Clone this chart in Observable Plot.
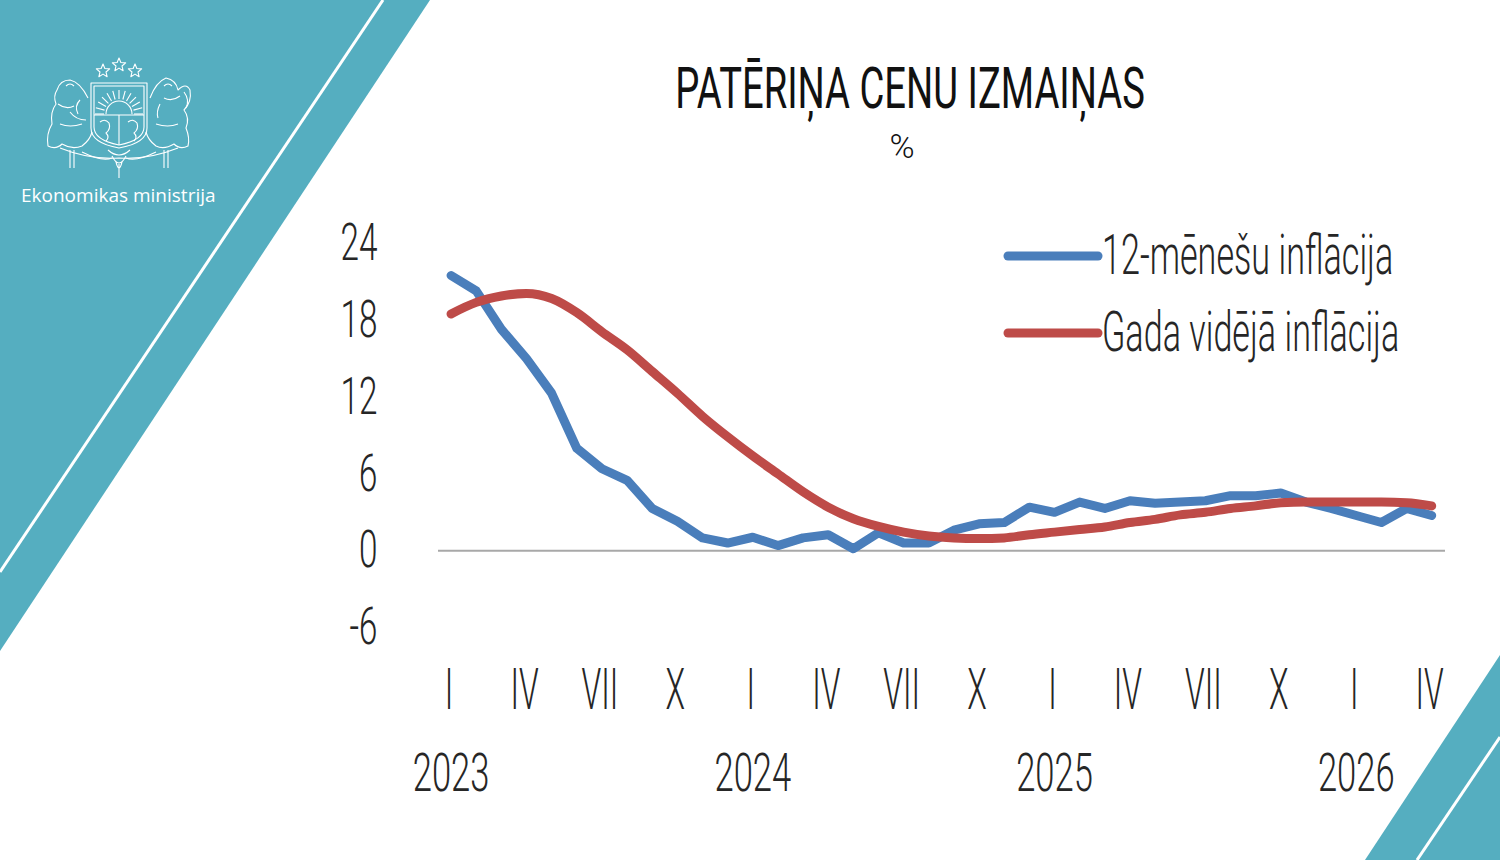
<!DOCTYPE html>
<html>
<head>
<meta charset="utf-8">
<script src="https://cdn.jsdelivr.net/npm/d3@7"></script>
<script src="https://cdn.jsdelivr.net/npm/@observablehq/plot@0.6"></script>
<style>
  html, body { margin: 0; padding: 0; background: #fff; }
  #page { position: relative; width: 1500px; height: 860px; overflow: hidden; background: #fff; }
  #deco, #overlay, #chart { position: absolute; left: 0; top: 0; }
</style>
</head>
<body>
<div id="page">
  <svg id="deco" width="1500" height="860"></svg>
  <div id="chart"></div>
  <svg id="overlay" width="1500" height="860"></svg>
</div>
<script>
// ---------------- DATA ----------------
const titleText = "PATĒRIŅA CENU IZMAIŅAS";
const unitText = "%";
const ministryText = "Ekonomikas ministrija";

// month index 0 = January 2023 ... 39 = April 2026
const monthIndex = d3.range(40);

const seriesNames = ["12-mēnešu inflācija", "Gada vidējā inflācija"];
const seriesColors = ["#4a7ebb", "#be4b48"];

const inflation12 = [
  21.5, 20.3, 17.3, 15.0, 12.3, 8.0, 6.4, 5.5, 3.3, 2.3, 1.0, 0.6,
  1.05, 0.4, 1.0, 1.25, 0.15, 1.4, 0.6, 0.6, 1.6, 2.1, 2.2, 3.4,
  3.0, 3.8, 3.3, 3.9, 3.7, 3.8, 3.9, 4.3, 4.3, 4.5, 3.8, 3.3,
  2.75, 2.2, 3.3, 2.75
];
const annualAverage = [
  18.5, 19.4, 19.9, 20.1, 19.7, 18.6, 17.1, 15.7, 14.0, 12.3, 10.5, 8.9,
  7.4, 6.0, 4.6, 3.4, 2.5, 1.9, 1.45, 1.15, 1.0, 0.95, 1.0, 1.25,
  1.45, 1.65, 1.85, 2.2, 2.45, 2.8, 3.0, 3.3, 3.5, 3.75, 3.8, 3.8,
  3.8, 3.8, 3.75, 3.5
];

const yTicks = [-6, 0, 6, 12, 18, 24];
const quarterTicks = [0, 3, 6, 9, 12, 15, 18, 21, 24, 27, 30, 33, 36, 39];
const quarterLabels = ["I", "IV", "VII", "X", "I", "IV", "VII", "X", "I", "IV", "VII", "X", "I", "IV"];
const yearTicks = [0, 12, 24, 36];
const yearLabels = ["2023", "2024", "2025", "2026"];

// ---------------- TABLES ----------------
const rows12 = monthIndex.map((m, i) => ({ m, v: inflation12[i] }));
const rowsAvg = monthIndex.map((m, i) => ({ m, v: annualAverage[i] }));
const quarterData = quarterTicks.map((m, i) => ({ m, label: quarterLabels[i] }));
const yearData = yearTicks.map((m, i) => ({ m, label: yearLabels[i] }));

const FONT = "Roboto, 'Open Sans', sans-serif";
const TXT = "#262626";

// ---------------- CHART ----------------
const chart = Plot.plot({
  width: 1500,
  height: 860,
  marginLeft: 438,
  marginRight: 55,
  marginTop: 243,
  marginBottom: 233,
  x: { domain: [-0.5, 39.55], axis: null },
  y: { domain: [-6, 24], axis: null },
  style: { background: "transparent", fontFamily: FONT, overflow: "visible" },
  marks: [
    Plot.ruleY([0], { stroke: "#a8a8a8", strokeWidth: 2 }),
    Plot.axisY({
      ticks: yTicks, tickSize: 0, tickPadding: 61, fontSize: 52, fontWeight: 300,
      fill: TXT, tickFormat: d => String(d), label: null
    }),
    Plot.text(quarterData, {
      x: "m", text: "label", frameAnchor: "bottom", dy: 63, dx: -2,
      fontSize: 58, fontWeight: 300, fill: TXT, lineAnchor: "middle"
    }),
    Plot.text(yearData, {
      x: "m", text: "label", frameAnchor: "bottom", dy: 146,
      fontSize: 54, fontWeight: 300, fill: TXT, lineAnchor: "middle"
    }),
    Plot.line(rows12, {
      x: "m", y: "v", stroke: seriesColors[0], strokeWidth: 9,
      strokeLinejoin: "round", strokeLinecap: "round"
    }),
    Plot.line(rowsAvg, {
      x: "m", y: "v", stroke: seriesColors[1], strokeWidth: 9,
      strokeLinejoin: "round", strokeLinecap: "round", curve: "monotone-x"
    })
  ]
});
document.getElementById("chart").appendChild(chart);

// condense the tick label font horizontally (narrow typeface look)
chart.querySelectorAll("text").forEach(t => {
  const tr = t.getAttribute("transform");
  const roman = /^[IVX]+$/.test(t.textContent.trim());
  if (tr) t.setAttribute("transform", tr + (roman ? " scale(0.55,1)" : " scale(0.64,1)"));
});

// ---------------- DECORATION ----------------
const deco = d3.select("#deco");
const teal = "#55aec0";
deco.append("polygon").attr("points", "0,0 430,0 0,651").attr("fill", teal);
deco.append("line").attr("x1", 383).attr("y1", 0).attr("x2", 0).attr("y2", 572)
  .attr("stroke", "#fff").attr("stroke-width", 3);
deco.append("polygon").attr("points", "1500,655 1500,860 1365,860").attr("fill", teal);
deco.append("line").attr("x1", 1500).attr("y1", 737).attr("x2", 1417).attr("y2", 860)
  .attr("stroke", "#fff").attr("stroke-width", 3);

// simplified coat of arms (white outline)
const logo = deco.append("g").attr("fill", "none").attr("stroke", "#fff")
  .attr("stroke-width", 1.1).attr("stroke-linejoin", "round");
function star(cx, cy, r) {
  const pts = d3.range(10).map(i => {
    const a = -Math.PI / 2 + i * Math.PI / 5;
    const rr = i % 2 ? r * 0.45 : r;
    return [cx + rr * Math.cos(a), cy + rr * Math.sin(a)];
  });
  logo.append("polygon").attr("points", pts.map(p => p.join(",")).join(" "));
}
star(103, 71, 7); star(119, 65, 7); star(135, 71, 7);
// shield
logo.append("path").attr("d", "M91,83 L147,83 L147,128 Q147,143 119,148 Q91,143 91,128 Z");
logo.append("path").attr("d", "M94,86 L144,86 L144,127 Q144,140 119,145 Q94,140 94,127 Z");
// sun
logo.append("path").attr("d", "M106,114 A13,13 0 0 1 132,114");
d3.range(13).forEach(i => {
  const a = Math.PI + i * Math.PI / 12;
  logo.append("line")
    .attr("x1", 119 + 15 * Math.cos(a)).attr("y1", 114 + 15 * Math.sin(a))
    .attr("x2", 119 + 24 * Math.cos(a)).attr("y2", 114 + 24 * Math.sin(a));
});
logo.append("line").attr("x1", 94).attr("y1", 115).attr("x2", 144).attr("y2", 115);
logo.append("line").attr("x1", 119).attr("y1", 115).attr("x2", 119).attr("y2", 145);
logo.append("path").attr("d", "M100,122 q5,-4 9,1 q2,6 -3,10 q4,4 0,8 M128,122 q5,-4 9,1 q2,6 -3,10 q4,4 0,8");
// lion (left)
logo.append("path").attr("d", "M88,98 Q80,82 70,80 Q60,80 57,90 Q53,96 56,104 Q50,112 52,124 Q46,134 48,146 Q56,150 62,144 Q72,150 82,146 Q90,140 92,132 M66,86 q4,-4 8,0 M58,104 q8,6 16,2 M60,124 q10,4 22,0");
logo.append("path").attr("d", "M80,100 q-6,6 -2,14 M70,112 q6,8 16,8");
// griffin (right)
logo.append("path").attr("d", "M150,98 Q156,82 166,78 Q176,80 178,90 Q186,82 190,90 Q192,102 184,110 Q190,118 186,128 Q190,138 188,146 Q180,150 174,144 Q164,150 156,146 Q148,140 146,132 M164,86 q4,-4 8,0 M180,96 q-8,6 -16,2 M178,124 q-10,4 -22,0");
logo.append("path").attr("d", "M184,92 q6,8 2,16 M160,104 q-4,8 -2,14");
// base / drapery
logo.append("path").attr("d", "M60,148 Q90,160 119,158 Q148,160 178,148 M70,150 L70,168 M168,150 L168,168 M74,150 L74,168 M164,150 L164,168");
logo.append("path").attr("d", "M108,150 q11,10 22,0 M112,156 q7,14 14,0 M116,162 q3,12 6,0 M119,164 L119,178");
logo.append("path").attr("d", "M82,152 q20,10 30,6 M156,152 q-20,10 -30,6");

deco.append("text").attr("x", 21).attr("y", 202)
  .attr("font-family", "'Open Sans', sans-serif").attr("font-size", 19)
  .attr("fill", "#fff").text(ministryText);

// ---------------- TITLE & LEGEND ----------------
const ov = d3.select("#overlay");
ov.append("text")
  .attr("transform", "translate(910,108) scale(0.67,1)")
  .attr("text-anchor", "middle")
  .attr("font-family", FONT).attr("font-size", 57).attr("font-weight", 400)
  .attr("fill", "#111").text(titleText);
ov.append("text")
  .attr("x", 902).attr("y", 158).attr("text-anchor", "middle")
  .attr("font-family", FONT).attr("font-size", 34).attr("font-weight", 300)
  .attr("fill", "#111").text(unitText);

const legendRows = seriesNames.map((name, i) => ({ name, color: seriesColors[i], i }));
const lg = ov.append("g");
legendRows.forEach(d => {
  const y = 256 + d.i * 77;
  lg.append("line").attr("x1", 1008).attr("x2", 1098).attr("y1", y).attr("y2", y)
    .attr("stroke", d.color).attr("stroke-width", 9).attr("stroke-linecap", "round");
  lg.append("text")
    .attr("transform", `translate(1102,${y + 18}) scale(0.61,1)`)
    .attr("font-family", FONT).attr("font-size", 56).attr("font-weight", 300)
    .attr("fill", TXT).text(d.name);
});
</script>
</body>
</html>
